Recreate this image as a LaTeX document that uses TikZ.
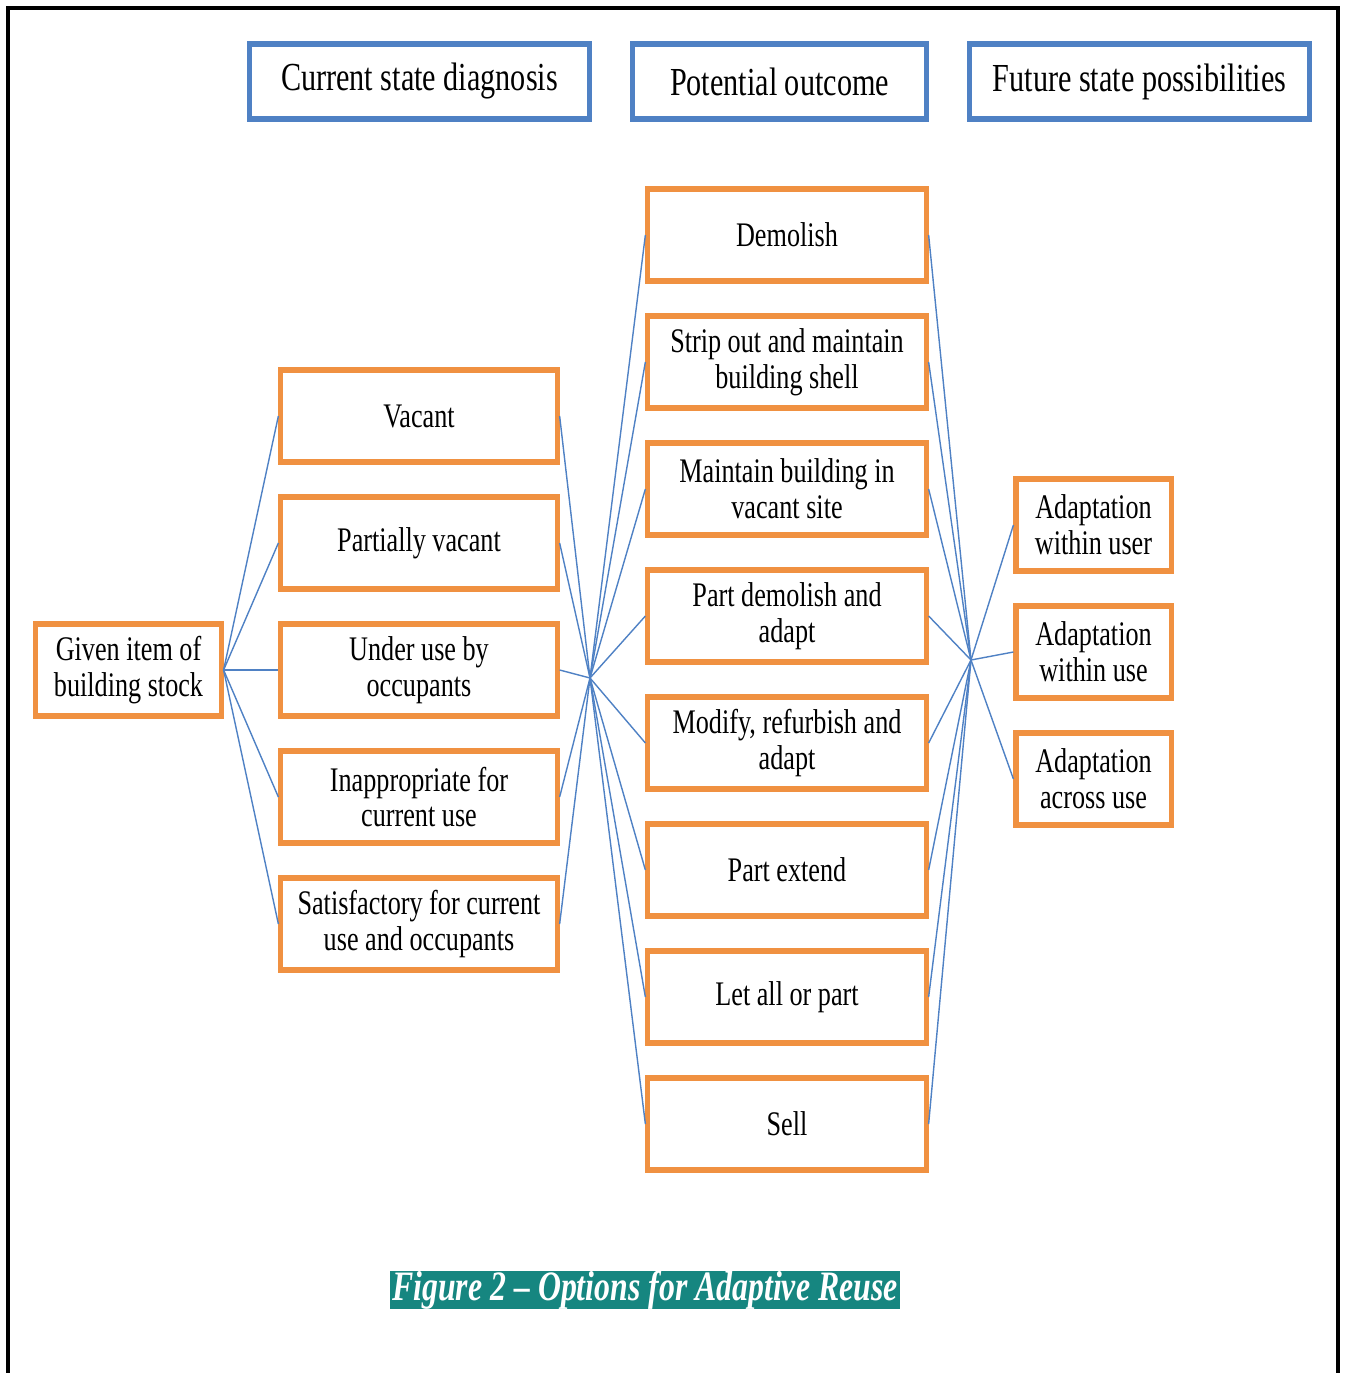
\documentclass[tikz,border=0pt]{standalone}
\usepackage{fontspec}
\setmainfont{Liberation Serif}[FakeStretch=0.76]
\definecolor{boxorange}{RGB}{240,145,65}
\definecolor{hdrblue}{RGB}{79,129,196}
\definecolor{linkblue}{RGB}{79,129,196}
\definecolor{capteal}{RGB}{22,134,128}
\begin{document}
\begin{tikzpicture}[x=0.01cm,y=-0.01cm,
  obox/.style={draw=boxorange,line width=1.45pt,minimum height=0.92cm,align=center,inner sep=1pt,font=\fontsize{9.8}{10.2}\selectfont},
  hbox/.style={draw=hdrblue,line width=1.45pt,minimum height=0.75cm,minimum width=#1,inner sep=1pt,font=\fontsize{11.3}{13}\selectfont},
  link/.style={draw=linkblue,line width=0.4pt}]
\useasboundingbox (0,0) rectangle (1345,1373);
\draw[line width=1.2pt] (8,1373) -- (8,8) -- (1338,8) -- (1338,1373);
% headers
\node[hbox=3.39cm] (h1) at (419.5,81.5) {Current state diagnosis};
\node[hbox=2.93cm] (h2) at (779.5,81.5) {Potential outcome};
\node[hbox=3.39cm] (h3) at (1139.5,81.5) {Future state possibilities};
% given
\node[obox,minimum width=1.85cm] (g) at (128.5,670) {Given item of\\building stock};
% left column
\begin{scope}[every node/.append style={obox,minimum width=2.76cm}]
\node (l1) at (419,416) {Vacant};
\node (l2) at (419,543) {Partially vacant};
\node (l3) at (419,670) {Under use by\\occupants};
\node (l4) at (419,797) {Inappropriate for\\current use};
\node (l5) at (419,924) {Satisfactory for current\\use and occupants};
\end{scope}
% middle column
\begin{scope}[every node/.append style={obox,minimum width=2.78cm}]
\node (m1) at (787,235) {Demolish};
\node (m2) at (787,362) {Strip out and maintain\\building shell};
\node (m3) at (787,489) {Maintain building in\\vacant site};
\node (m4) at (787,616) {Part demolish and\\adapt};
\node (m5) at (787,743) {Modify, refurbish and\\adapt};
\node (m6) at (787,870) {Part extend};
\node (m7) at (787,997) {Let all or part};
\node (m8) at (787,1124) {Sell};
\end{scope}
% right column
\begin{scope}[every node/.append style={obox,minimum width=1.55cm}]
\node (r1) at (1093.5,525) {Adaptation\\within user};
\node (r2) at (1093.5,652) {Adaptation\\within use};
\node (r3) at (1093.5,779) {Adaptation\\across use};
\end{scope}
% hubs
\coordinate (hub1) at (590,678);
\coordinate (hub2) at (971,660);
% connectors
\foreach \n in {l1,l2,l3,l4,l5}{
  \draw[link] (g.east) -- (\n.west);
  \draw[link] (\n.east) -- (hub1);
}
\foreach \n in {m1,m2,m3,m4,m5,m6,m7,m8}{
  \draw[link] (hub1) -- (\n.west);
  \draw[link] (\n.east) -- (hub2);
}
\foreach \n in {r1,r2,r3}{
  \draw[link] (hub2) -- (\n.west);
}
% caption
\node[fill=capteal,text=white,inner sep=0pt,minimum width=5.1cm,minimum height=0.36cm,font=\fontsize{11.9}{14}\selectfont\bfseries\itshape] (cap) at (645,1290) {Figure 2 -- Options for Adaptive Reuse};
\end{tikzpicture}
\end{document}
